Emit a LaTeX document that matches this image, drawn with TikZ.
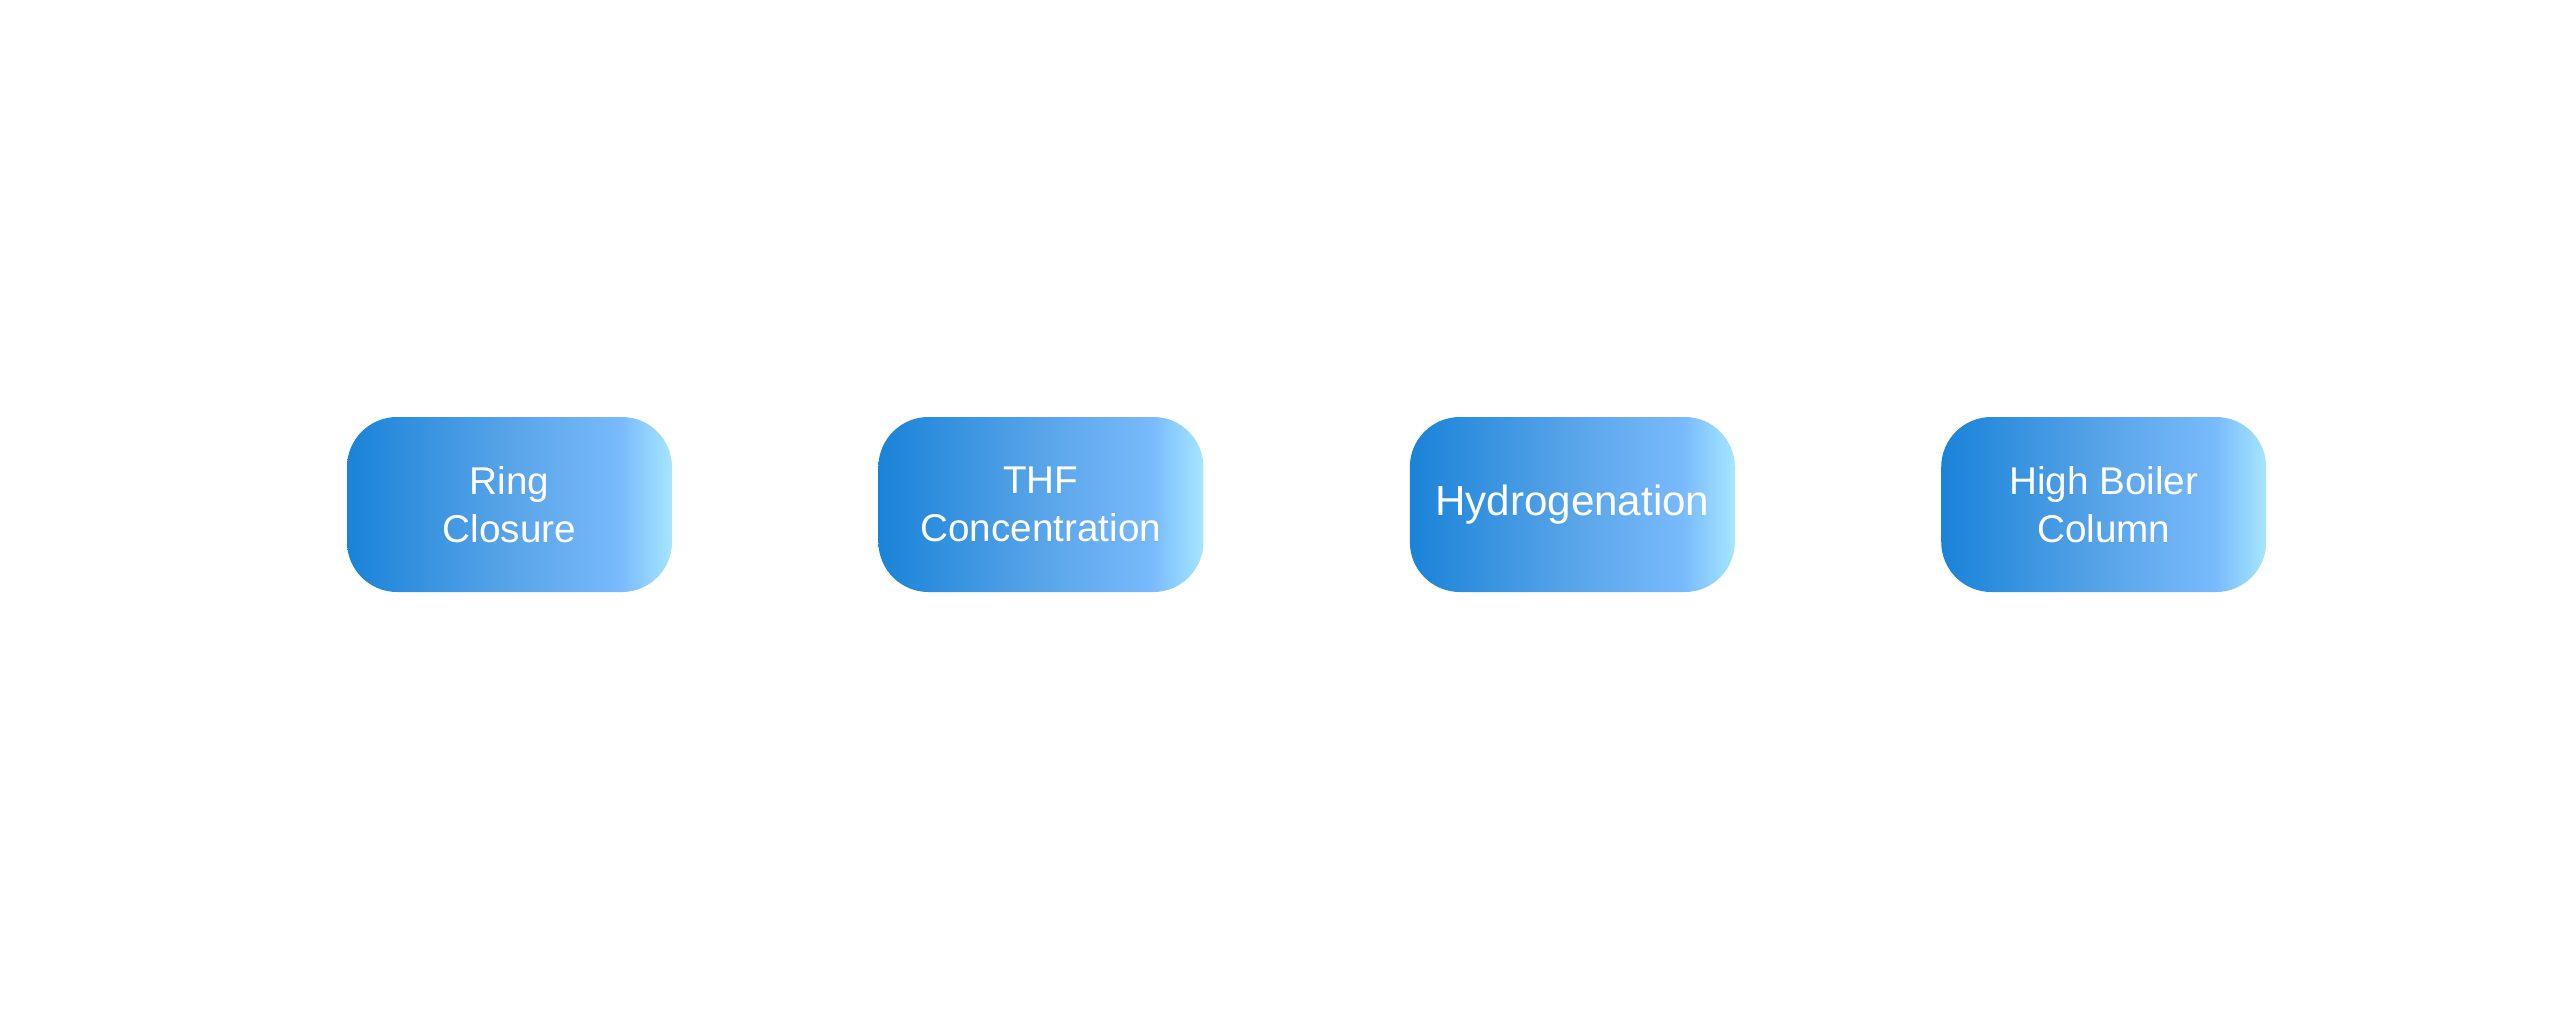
\documentclass[tikz,border=0pt]{standalone}
\usepackage{fontspec}
\setmainfont{Liberation Sans}
\usepackage{tikz}
\usetikzlibrary{positioning}
\definecolor{boxleft}{RGB}{26,131,216}
\definecolor{boxmid}{RGB}{88,164,232}
\definecolor{boxlight}{RGB}{120,186,252}
\definecolor{boxright}{RGB}{166,230,255}
\pgfdeclarehorizontalshading{boxshade}{100bp}{color(0bp)=(boxleft); color(25bp)=(boxleft); color(50bp)=(boxmid); color(67bp)=(boxlight); color(75bp)=(boxright); color(100bp)=(boxright)}

\begin{document}
\begin{tikzpicture}[
    procbox/.style={rounded corners=5mm, shading=boxshade, draw=none,
      minimum width=3.25cm, minimum height=1.75cm, text=white,
      align=center, font=\fontsize{11}{13.6}\selectfont},
    node distance=2.05cm]
    %% Fix the page size
    \useasboundingbox (0,0) rectangle (25.6,10.18);
    %% Process steps
    \node[procbox] (ring) at (5.095,5.135) {Ring\\Closure};
    \node[procbox, right=of ring] (thf) {THF\\Concentration};
    \node[procbox, right=of thf, font=\fontsize{12}{14}\selectfont] (hydro) {Hydrogenation};
    \node[procbox, right=of hydro] (boiler) {High Boiler\\Column};
\end{tikzpicture}
\end{document}
